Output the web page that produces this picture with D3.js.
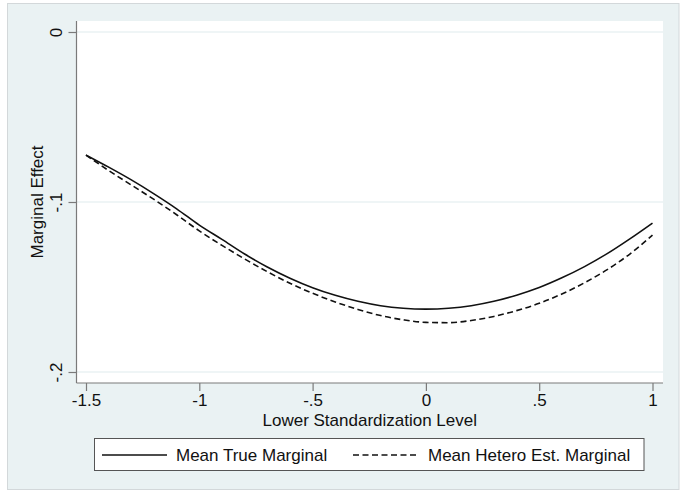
<!DOCTYPE html>
<html>
<head>
<meta charset="utf-8">
<script src="https://cdn.jsdelivr.net/npm/d3@7"></script>
<style>
  html, body { margin: 0; padding: 0; background: #ffffff; }
  svg { display: block; }
  text { font-family: "Liberation Sans", Arial, sans-serif; fill: #111; }
</style>
</head>
<body>
<svg id="chart" width="683" height="491"></svg>
<script>
// ---- data ----
const xLevels = [-1.5, -1.4, -1.3, -1.2, -1.1, -1.0, -0.9, -0.8, -0.7, -0.6, -0.5, -0.4, -0.3,
                 -0.2, -0.1, 0.0, 0.1, 0.2, 0.3, 0.4, 0.5, 0.6, 0.7, 0.8, 0.9, 1.0];
const meanTrue = [-0.0724, -0.0795, -0.0870, -0.0952, -0.1040, -0.1136, -0.1220, -0.1306, -0.1382,
                  -0.1448, -0.1504, -0.1549, -0.1584, -0.1610, -0.1625, -0.1630, -0.1625, -0.1610,
                  -0.1584, -0.1548, -0.1503, -0.1446, -0.1380, -0.1304, -0.1217, -0.1124];
const meanHetero = [-0.0724, -0.0815, -0.0900, -0.0985, -0.1075, -0.1170, -0.1255, -0.1335, -0.1410,
                    -0.1478, -0.1537, -0.1588, -0.1632, -0.1668, -0.1693, -0.1708, -0.1710, -0.1697,
                    -0.1673, -0.1639, -0.1596, -0.1541, -0.1475, -0.1398, -0.1306, -0.1195];
const xTicks = [-1.5, -1, -0.5, 0, 0.5, 1];
const xTickLabels = ["-1.5", "-1", "-.5", "0", ".5", "1"];
const yTicks = [0, -0.1, -0.2];
const yTickLabels = ["0", "-.1", "-.2"];
const seriesNames = ["Mean True Marginal", "Mean Hetero Est. Marginal"];
const xTitle = "Lower Standardization Level";
const yTitle = "Marginal Effect";

// ---- layout ----
const FS = "17px";
const svg = d3.select("#chart");
const plot = { left: 76.5, right: 663, top: 21, bottom: 383 };
const x = d3.scaleLinear().domain([-1.5, 1]).range([86, 652.5]);
const y = d3.scaleLinear().domain([0, -0.2]).range([32, 372]);

// outer graph region
svg.append("rect").attr("x", 7.5).attr("y", 3.5).attr("width", 671.5).attr("height", 486)
  .attr("fill", "#eaf2f3").attr("stroke", "#d3d8da").attr("stroke-width", 1);

// plot region
svg.append("rect").attr("x", plot.left).attr("y", plot.top)
  .attr("width", plot.right - plot.left).attr("height", plot.bottom - plot.top)
  .attr("fill", "#ffffff");

// gridlines
svg.append("g").selectAll("line").data(yTicks).join("line")
  .attr("x1", plot.left).attr("x2", plot.right)
  .attr("y1", d => y(d)).attr("y2", d => y(d))
  .attr("stroke", "#eaf2f3").attr("stroke-width", 1.5);

// y axis
const yAxis = d3.axisLeft(y).tickValues(yTicks).tickSize(8).tickPadding(6)
  .tickFormat((d, i) => yTickLabels[i]);
const gy = svg.append("g").attr("transform", `translate(${plot.left},0)`).call(yAxis);
gy.select(".domain").attr("d", `M0,${plot.top}V${plot.bottom}`).attr("stroke", "#7a7a7a").attr("stroke-width", 1.2);
gy.selectAll(".tick line").attr("stroke", "#7a7a7a").attr("stroke-width", 1.2);
gy.selectAll(".tick text")
  .attr("x", null).attr("dy", null)
  .attr("transform", "translate(-15,0) rotate(-90)")
  .attr("text-anchor", "middle")
  .style("font-size", FS).style("font-family", "'Liberation Sans', Arial, sans-serif").attr("fill", "#111");

// x axis
const xAxis = d3.axisBottom(x).tickValues(xTicks).tickSize(8).tickPadding(6)
  .tickFormat((d, i) => xTickLabels[i]);
const gx = svg.append("g").attr("transform", `translate(0,${plot.bottom})`).call(xAxis);
gx.select(".domain").attr("d", `M${plot.left},0H${plot.right}`).attr("stroke", "#7a7a7a").attr("stroke-width", 1.2);
gx.selectAll(".tick line").attr("stroke", "#7a7a7a").attr("stroke-width", 1.2);
gx.selectAll(".tick text").attr("y", 23).attr("dy", null)
  .style("font-size", FS).style("font-family", "'Liberation Sans', Arial, sans-serif").attr("fill", "#111");

// axis titles
svg.append("text").attr("x", (plot.left + plot.right) / 2).attr("y", 426)
  .attr("text-anchor", "middle").style("font-size", FS).text(xTitle);
svg.append("text").attr("transform", `translate(43,${(plot.top + plot.bottom) / 2}) rotate(-90)`)
  .attr("text-anchor", "middle").style("font-size", FS).text(yTitle);

// lines
const rows = xLevels.map((v, i) => ({ x: v, t: meanTrue[i], h: meanHetero[i] }));
const lineT = d3.line().x(d => x(d.x)).y(d => y(d.t)).curve(d3.curveMonotoneX);
const lineH = d3.line().x(d => x(d.x)).y(d => y(d.h)).curve(d3.curveMonotoneX);
svg.append("path").datum(rows).attr("d", lineH).attr("fill", "none")
  .attr("stroke", "#111").attr("stroke-width", 1.6).attr("stroke-dasharray", "6,3.5");
svg.append("path").datum(rows).attr("d", lineT).attr("fill", "none")
  .attr("stroke", "#111").attr("stroke-width", 1.6);

// legend
const lg = svg.append("g");
lg.append("rect").attr("x", 94.5).attr("y", 438.5).attr("width", 549.5).attr("height", 32)
  .attr("fill", "#ffffff").attr("stroke", "#555").attr("stroke-width", 1);
const legendItems = [
  { name: seriesNames[0], x1: 102, x2: 167, tx: 176, dash: null },
  { name: seriesNames[1], x1: 353, x2: 419, tx: 428, dash: "6,3.5" }
];
legendItems.forEach(it => {
  lg.append("line").attr("x1", it.x1).attr("x2", it.x2).attr("y1", 455).attr("y2", 455)
    .attr("stroke", "#111").attr("stroke-width", 1.6).attr("stroke-dasharray", it.dash);
  lg.append("text").attr("x", it.tx).attr("y", 461).style("font-size", FS).text(it.name);
});
</script>
</body>
</html>
